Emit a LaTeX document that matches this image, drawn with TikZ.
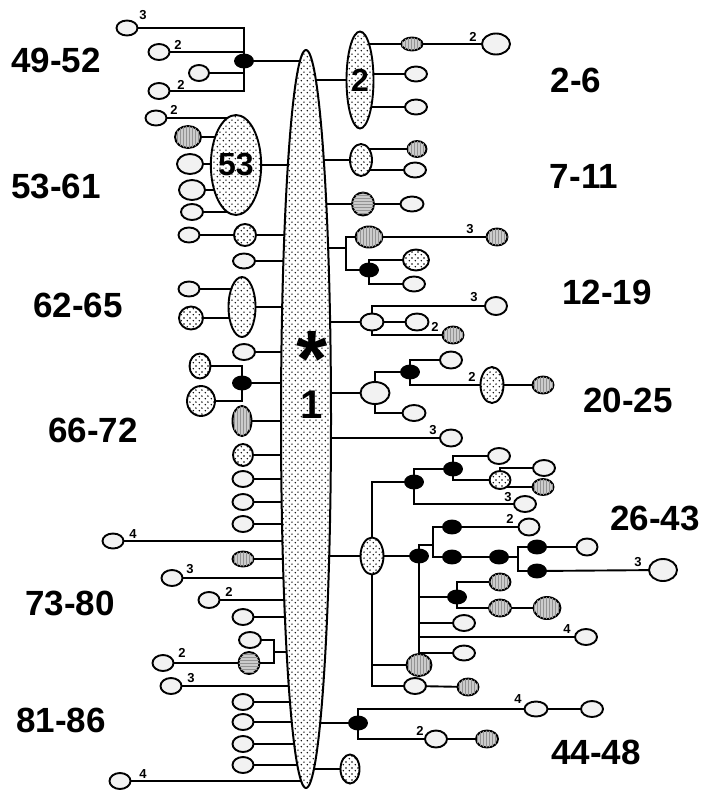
\documentclass[tikz,border=0pt]{standalone}
\usepackage{fontspec}
\setmainfont{Liberation Sans}
\usetikzlibrary{shapes.geometric,patterns,backgrounds}
\pgfdeclarepatternformonly{sparsedots}{\pgfpointorigin}{\pgfqpoint{6pt}{6pt}}{\pgfqpoint{6pt}{6pt}}{%
  \pgfpathcircle{\pgfqpoint{1.5pt}{1.5pt}}{0.9pt}%
  \pgfpathcircle{\pgfqpoint{4.5pt}{4.5pt}}{0.9pt}%
  \pgfusepath{fill}}

\begin{document}
\begin{tikzpicture}[x=1pt,y=-1pt,line width=1.9pt,
  lf/.style={ellipse,draw,fill=gray!10,inner sep=0pt,minimum width=22pt,minimum height=16pt},
  dotlf/.style={lf,fill=white,postaction={pattern=sparsedots}},
  hatlf/.style={lf,fill=gray!40,postaction={pattern=vertical lines,pattern color=gray!85}},
  hatlfh/.style={lf,fill=gray!40,postaction={pattern=horizontal lines,pattern color=gray!85}},
  blk/.style={ellipse,draw,fill=black,inner sep=0pt,minimum width=18pt,minimum height=13pt},
  num/.style={font=\bfseries\fontsize{13}{13}\selectfont,inner sep=0pt},
  grp/.style={font=\bfseries\fontsize{35}{35}\selectfont,inner sep=0pt},
  inl/.style={font=\bfseries\fontsize{32}{32}\selectfont},
  conn/.style={line width=1.9pt,line cap=rect}]
\useasboundingbox (0,0) rectangle (710,790);

% central cluster
\node[dotlf,minimum width=50pt,minimum height=738pt,line width=2pt] (big) at (306,419) {};
\node[font=\bfseries\fontsize{80}{80}\selectfont,inner sep=0pt,anchor=base] (star) at (312,386) {\smash{*}};
\node[font=\bfseries\fontsize{40}{40}\selectfont,inner sep=0pt] (one) at (312,405) {1};

% group labels
\node[grp] (l1) at (56,60) {49-52};
\node[grp] (l2) at (576,80) {2-6};
\node[grp] (l3) at (56,186) {53-61};
\node[grp] (l4) at (584,176) {7-11};
\node[grp] (l5) at (78,305) {62-65};
\node[grp] (l6) at (607,292) {12-19};
\node[grp] (l7) at (628,400) {20-25};
\node[grp] (l8) at (93,430) {66-72};
\node[grp] (l9) at (655,518) {26-43};
\node[grp] (l10) at (70,603) {73-80};
\node[grp] (l11) at (61,720) {81-86};
\node[grp] (l12) at (596,752) {44-48};

% left, 49-52
\node[blk] (d1) at (244,61) {};
\node[lf,minimum width=21pt,minimum height=15pt] (a1) at (127,28) {};
\node[lf,minimum width=21pt] (a2) at (159,52) {};
\node[lf,minimum width=20pt] (a3) at (199,73) {};
\node[lf,minimum width=21pt] (a4) at (159,91) {};
\node[num] (n1) at (143,15) {3};
\node[num] (n2) at (178,45) {2};
\node[num] (n3) at (181,85) {2};

% left, 53-61
\node[dotlf,minimum width=38pt,minimum height=100pt,inl] (c53) at (236,165) {53};
\node[lf,minimum width=21pt,minimum height=15pt] (b0) at (156,118) {};
\node[num] (n4) at (174,110) {2};
\node[hatlf,minimum width=26pt,minimum height=22pt] (b1) at (188,137) {};
\node[lf,minimum width=26pt,minimum height=20pt] (b2) at (190,164) {};
\node[lf,minimum width=26pt,minimum height=20pt] (b3) at (192,190) {};
\node[lf] (b4) at (192,212) {};
\node[dotlf,minimum width=22pt,minimum height=22pt] (c1) at (245,235) {};
\node[lf,minimum width=21pt,minimum height=15pt] (c0) at (189,235) {};
\node[lf,minimum height=15pt] (c2) at (244,261) {};

% left, 62-65
\node[dotlf,minimum width=27pt,minimum height=60pt] (e1) at (242,307) {};
\node[lf,minimum width=21pt,minimum height=15pt] (e0) at (189,289) {};
\node[dotlf,minimum width=24pt,minimum height=23pt] (e3) at (191,318) {};
\node[lf] (e2) at (244,352) {};

% left, 66-72
\node[blk] (f1) at (242,383) {};
\node[dotlf,minimum width=21pt,minimum height=25pt] (f0) at (200,366) {};
\node[dotlf,minimum width=28pt,minimum height=30pt] (f3) at (201,401) {};
\node[hatlf,minimum width=19pt,minimum height=30pt] (f2) at (242,421) {};
\node[dotlf,minimum width=20pt,minimum height=22pt] (g1) at (243,455) {};
\node[lf,minimum width=21pt] (g2) at (243,479) {};
\node[lf,minimum width=21pt] (g3) at (243,502) {};
\node[lf,minimum width=21pt] (g4) at (243,524) {};

% left, 73-80
\node[lf,minimum width=21pt,minimum height=15pt] (h1) at (113,541) {};
\node[num] (n5) at (133,534) {4};
\node[hatlf,minimum width=21pt,minimum height=15pt] (g5) at (243,559) {};
\node[lf,minimum width=21pt] (h2) at (172,578) {};
\node[num] (n6) at (190,569) {3};
\node[lf,minimum width=21pt] (h3) at (209,600) {};
\node[num] (n7) at (229,592) {2};
\node[lf,minimum width=21pt] (g6) at (243,617) {};
\node[lf] (k1) at (250,640) {};
\node[hatlfh,minimum width=21pt,minimum height=22pt] (k2) at (249,663) {};
\coordinate (kj) at (274,652);
\node[lf,minimum width=21pt] (k0) at (163,663) {};
\node[num] (n8) at (182,653) {2};

% left, 81-86
\node[lf,minimum width=21pt] (k3) at (171,686) {};
\node[num] (n9) at (191,678) {3};
\node[lf,minimum width=21pt] (m1) at (243,702) {};
\node[lf,minimum width=21pt] (m2) at (243,722) {};
\node[lf,minimum width=21pt] (m3) at (243,744) {};
\node[lf,minimum width=21pt] (m4) at (243,765) {};
\node[lf,minimum width=21pt] (m5) at (120,781) {};
\node[num] (n10) at (143,774) {4};

% right, 2-6
\node[dotlf,minimum width=27pt,minimum height=97pt,inl] (two) at (360,80) {2};
\node[hatlf,minimum width=21pt,minimum height=13pt] (s1) at (412,44) {};
\node[lf,minimum width=28pt,minimum height=21pt] (s2) at (496,44) {};
\node[num] (n11) at (473,37) {2};
\node[lf,minimum height=15pt] (s3) at (416,74) {};
\node[lf,minimum height=15pt] (s4) at (416,107) {};

% right, 7-11
\node[dotlf,minimum width=22pt,minimum height=32pt] (t1) at (361,160) {};
\node[hatlf,minimum width=19pt,minimum height=16pt] (t1a) at (417,149) {};
\node[lf,minimum height=15pt] (t1b) at (415,170) {};
\node[hatlfh,minimum width=22pt,minimum height=23pt] (t2) at (363,204) {};
\node[lf,minimum width=23pt,minimum height=15pt] (t3) at (412,204) {};

% right, 12-19
\coordinate (uj) at (346,248);
\node[hatlf,minimum width=27pt,minimum height=21pt] (u1) at (369,237) {};
\node[hatlf,minimum width=21pt,minimum height=17pt] (u1a) at (497,237) {};
\node[num] (n12) at (470,229) {3};
\node[blk] (u2) at (369,270) {};
\node[dotlf,minimum width=26pt,minimum height=21pt] (u3) at (416,260) {};
\node[lf,minimum height=15pt] (u4) at (414,284) {};
\node[lf,minimum width=23pt,minimum height=17pt] (v1) at (372,322) {};
\node[lf,minimum height=18pt] (v2) at (496,306) {};
\node[num] (n13) at (474,297) {3};
\node[lf,minimum width=23pt,minimum height=17pt] (v3) at (417,322) {};
\node[hatlf,minimum width=21pt,minimum height=17pt] (v4) at (453,335) {};
\node[num] (n14) at (435,327) {2};

% right, 20-25
\node[lf,minimum width=29pt,minimum height=22pt] (w1) at (375,393) {};
\node[blk] (w2) at (410,372) {};
\node[lf,minimum width=23pt] (w3) at (414,413) {};
\node[lf,minimum height=17pt] (w4) at (451,360) {};
\node[dotlf,minimum width=23pt,minimum height=36pt] (w5) at (492,385) {};
\node[num] (n15) at (472,377) {2};
\node[hatlf,minimum width=21pt,minimum height=17pt] (w6) at (543,385) {};
\node[lf,minimum height=17pt] (x1) at (451,438) {};
\node[num] (n16) at (433,430) {3};

% right, 26-43
\node[dotlf,minimum width=23pt,minimum height=37pt] (y1) at (372,556) {};
\node[blk] (z1) at (414,482) {};
\node[blk] (z2) at (453,469) {};
\node[lf] (z3) at (499,456) {};
\node[dotlf,minimum width=21pt,minimum height=18pt] (z4) at (500,480) {};
\node[lf] (z5) at (544,468) {};
\node[hatlf,minimum width=21pt] (z6) at (543,487) {};
\node[lf] (z7) at (525,504) {};
\node[num] (n17) at (508,497) {3};
\node[blk] (z8) at (419,556) {};
\coordinate (zc) at (433,545);
\node[blk] (z9) at (452,527) {};
\node[lf,minimum width=21pt,minimum height=17pt] (z10) at (529,527) {};
\node[num] (n18) at (510,519) {2};
\node[blk] (z11) at (452,557) {};
\node[blk] (z12) at (499,557) {};
\coordinate (zd) at (518,557);
\node[blk] (z13) at (537,547) {};
\node[lf,minimum width=21pt,minimum height=17pt] (z14) at (587,547) {};
\node[blk] (z15) at (537,571) {};
\node[lf,minimum width=28pt,minimum height=22pt] (z16) at (663,570) {};
\node[num] (n19) at (638,562) {3};
\node[blk] (z17) at (457,597) {};
\node[hatlf,minimum width=21pt,minimum height=17pt] (z18) at (500,582) {};
\node[hatlf,minimum width=22pt,minimum height=17pt] (z19) at (500,608) {};
\node[hatlf,minimum width=27pt,minimum height=22pt] (z20) at (547,608) {};
\node[lf] (z21) at (464,623) {};
\node[lf] (z22) at (586,637) {};
\node[num] (n20) at (567,629) {4};
\node[lf,minimum height=15pt] (z23) at (464,653) {};
\node[hatlf,minimum width=25pt,minimum height=22pt] (zh) at (419,665) {};
\node[lf] (zb) at (415,686) {};
\node[hatlf,minimum width=21pt,minimum height=17pt] (zb2) at (468,687) {};

% right, 44-48
\node[blk] (p1) at (358,723) {};
\node[lf,minimum width=23pt,minimum height=15pt] (q1) at (536,709) {};
\node[num] (n21) at (518,699) {4};
\node[lf] (q2) at (592,709) {};
\node[lf,minimum height=17pt] (q3) at (436,739) {};
\node[num] (n22) at (420,731) {2};
\node[hatlf,minimum height=17pt] (q4) at (487,739) {};
\node[dotlf,minimum width=19pt,minimum height=29pt] (r1) at (350,769) {};

\begin{scope}[on background layer]
\begin{scope}[conn]
\draw (a1) -- (a1 -| d1) -- (a4 -| d1) -- (a4);
\draw (a2) -- (a2 -| d1);
\draw (a3) -- (a3 -| d1);
\draw (d1) -- (d1 -| big);
\foreach \l in {b0,b1,b2,b3,b4} \draw (\l) -- (\l -| c53);
\draw (c53) -- (c53 -| big);
\draw (c0) -- (c1);
\foreach \l in {c1,c2,e1,e2,f1,f2,g1,g2,g3,g4,h1,g5,h2,h3,g6,k3,m1,m2,m3,m4,m5}
  \draw (\l) -- (\l -| big);
\draw (e0) -- (e0 -| e1);
\draw (e3) -- (e3 -| e1);
\draw (f0) -- (f0 -| f1) -- (f3 -| f1) -- (f3);
\draw (k1) -- (k1 -| kj) -- (k2 -| kj) -- (k2);
\draw (kj) -- (kj -| big);
\draw (k0) -- (k2);
% right side
\draw (two) -- (two -| big);
\draw (s1 -| two) -- (s1) -- (s2);
\draw (s3) -- (s3 -| two);
\draw (s4) -- (s4 -| two);
\draw (t1) -- (t1 -| big);
\draw (t1a) -- (t1a -| t1);
\draw (t1b) -- (t1b -| t1);
\draw (t2) -- (t2 -| big);
\draw (t2) -- (t3);
\draw (uj -| big) -- (uj);
\draw (u1) -- (u1 -| uj) -- (u2 -| uj) -- (u2);
\draw (u1) -- (u1a);
\draw (u3) -- (u3 -| u2) -- (u4 -| u2) -- (u4);
\draw (v1) -- (v1 -| big);
\draw (v2) -- (v2 -| v1) -- (v4 -| v1) -- (v4);
\draw (v1) -- (v3);
\draw (w1) -- (w1 -| big);
\draw (w2) -- (w2 -| w1) -- (w3 -| w1) -- (w3);
\draw (w4) -- (w4 -| w2) -- (w5 -| w2) -- (w5) -- (w6);
\draw (x1) -- (x1 -| big);
\draw (y1) -- (y1 -| big);
\draw (z1) -- (z1 -| y1) -- (zb -| y1) -- (zb) -- (zb2);
\draw (zh) -- (zh -| y1);
\draw (z2) -- (z2 -| z1) -- (z7 -| z1) -- (z7);
\draw (z3) -- (z3 -| z2) -- (z4 -| z2) -- (z4);
\draw (z5) -- (z5 -| z4) -- (z6 -| z4) -- (z6);
\draw (y1) -- (z8);
\draw (z8) -- (z8 |- zc) -- (zc);
\draw (z9) -- (z9 -| zc) -- (z11 -| zc) -- (z11) -- (z12) -- (zd);
\draw (z9) -- (z10);
\draw (z13) -- (z13 -| zd) -- (z15 -| zd) -- (z15);
\draw (z13) -- (z14);
\draw (z15) -- (z16);
\draw (z8) -- (z23 -| z8) -- (z23);
\foreach \l in {z17,z21,z22} \draw (\l -| z8) -- (\l);
\draw (z18) -- (z18 -| z17) -- (z19 -| z17) -- (z19) -- (z20);
\draw (p1) -- (p1 -| big);
\draw (q1) -- (q1 -| p1) -- (q3 -| p1) -- (q3) -- (q4);
\draw (q1) -- (q2);
\draw (r1) -- (r1 -| big);
\end{scope}
\end{scope}
\end{tikzpicture}
\end{document}
